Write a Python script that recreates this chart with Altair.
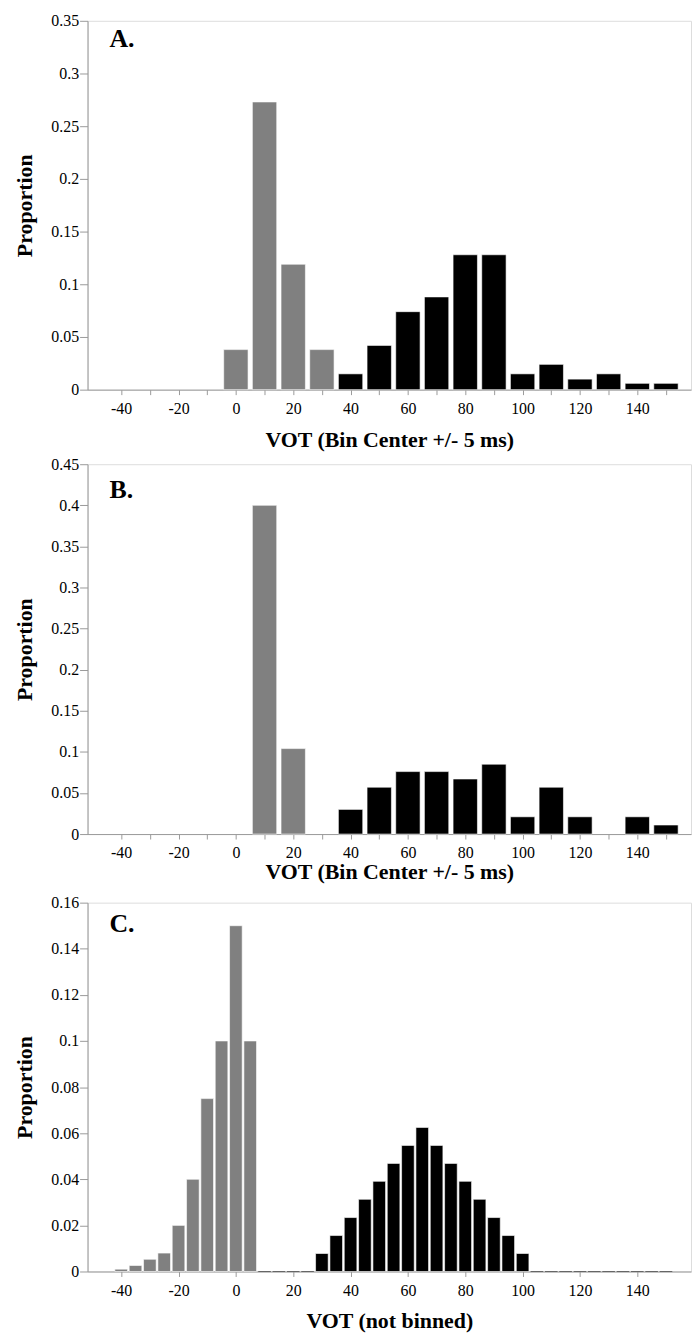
import altair as alt
import pandas as pd

# ---- data ----
a_centers = [0, 10, 20, 30, 40, 50, 60, 70, 80, 90, 100, 110, 120, 130, 140, 150]
a_values = [0.038, 0.273, 0.119, 0.038, 0.015, 0.042, 0.074, 0.088, 0.128, 0.128,
            0.015, 0.024, 0.010, 0.015, 0.006, 0.006]
a_group = ["b"] * 4 + ["p"] * 12

b_centers = [10, 20, 40, 50, 60, 70, 80, 90, 100, 110, 120, 140, 150]
b_values = [0.400, 0.104, 0.030, 0.057, 0.076, 0.076, 0.067, 0.085, 0.021, 0.057,
            0.021, 0.021, 0.011]
b_group = ["b"] * 2 + ["p"] * 11

c_centers = [-40, -35, -30, -25, -20, -15, -10, -5, 0, 5,
             30, 35, 40, 45, 50, 55, 60, 65, 70, 75, 80, 85, 90, 95, 100]
c_values = [0.001, 0.0026, 0.0053, 0.008, 0.020, 0.040, 0.075, 0.100, 0.150, 0.100,
            0.0078, 0.0156, 0.0234, 0.0313, 0.0391, 0.0469, 0.0547, 0.0625,
            0.0547, 0.0469, 0.0391, 0.0313, 0.0234, 0.0156, 0.0078]
c_group = ["b"] * 10 + ["p"] * 15
c_zero_centers = [10, 15, 20, 25, 105, 110, 115, 120, 125, 130, 135, 140, 145, 150]

x_tick_values = list(range(-40, 151, 10))

FONT = "Liberation Serif"
GRAY = "#808080"
AXIS_GRAY = "#9a9a9a"
W = 607
H = 371


def x_axis(title, title_pad):
    return alt.Axis(
        title=title, values=x_tick_values,
        labelExpr="(datum.value % 20 == 0 && datum.value <= 140) ? ('' + datum.value) : ''",
        grid=False, domainColor=AXIS_GRAY, tickColor=AXIS_GRAY, tickSize=5,
        labelPadding=6, labelFontSize=16, labelFont=FONT, labelColor="black",
        titleFont=FONT, titleFontSize=22, titleFontWeight="bold", titleColor="black",
        titlePadding=title_pad,
    )


def y_axis(step, top):
    n = int(round(top / step))
    vals = [round(i * step, 4) for i in range(n + 1)]
    return alt.Axis(
        title="Proportion", values=vals, format=".2~f", grid=False,
        domainColor=AXIS_GRAY, tickColor=AXIS_GRAY, tickSize=8, labelPadding=1,
        labelFontSize=16, labelFont=FONT, labelColor="black",
        titleFont=FONT, titleFontSize=22, titleFontWeight="bold", titleColor="black",
        titlePadding=14,
    )


def panel(centers, values, groups, bar_size, top, step, xtitle, title_pad, letter,
          letter_y, height, zero_centers=None):
    df = pd.DataFrame({"VOT": centers, "Proportion": values, "group": groups})
    xs = alt.Scale(domain=[-50, 157], nice=False, zero=False)
    ys = alt.Scale(domain=[0, top], nice=False)
    bars = alt.Chart(df).mark_bar(size=bar_size, stroke="white", strokeWidth=0.6).encode(
        x=alt.X("VOT:Q", scale=xs, axis=x_axis(xtitle, title_pad)),
        y=alt.Y("Proportion:Q", scale=ys, axis=y_axis(step, top)),
        color=alt.Color("group:N", scale=alt.Scale(domain=["b", "p"], range=[GRAY, "black"]),
                        legend=None),
    )
    layers = [bars]
    if zero_centers:
        zdf = pd.DataFrame({"VOT": zero_centers, "Proportion": [0.0] * len(zero_centers)})
        zbars = alt.Chart(zdf).mark_bar(size=bar_size, stroke="#666666", strokeWidth=1.2,
                                        fill="#666666").encode(
            x=alt.X("VOT:Q", scale=xs),
            y=alt.Y("Proportion:Q", scale=ys),
        )
        layers.append(zbars)
    ldf = pd.DataFrame({"t": [letter]})
    lab = alt.Chart(ldf).mark_text(font=FONT, fontSize=26, fontWeight="bold",
                                   align="left", baseline="alphabetic", color="black").encode(
        x=alt.value(22), y=alt.value(letter_y), text="t:N")
    layers.append(lab)
    return alt.layer(*layers).properties(width=W, height=height)


pa = panel(a_centers, a_values, a_group, 24.5, 0.35, 0.05,
           "VOT (Bin Center +/- 5 ms)", 13, "A.", 26, 371)
pb = panel(b_centers, b_values, b_group, 24.5, 0.45, 0.05,
           "VOT (Bin Center +/- 5 ms)", 1, "B.", 34, 372)
pc = panel(c_centers, c_values, c_group, 12.7, 0.16, 0.02,
           "VOT (not binned)", 12, "C.", 30, 371, zero_centers=c_zero_centers)

chart = alt.vconcat(alt.vconcat(pa, pb, spacing=4), pc, spacing=10).properties(
    padding={"left": 5, "top": 0, "right": 0, "bottom": 0}
).configure_view(stroke=None).configure(background="white")

chart.save("out.html", embed_options={"renderer": "svg", "actions": False})
